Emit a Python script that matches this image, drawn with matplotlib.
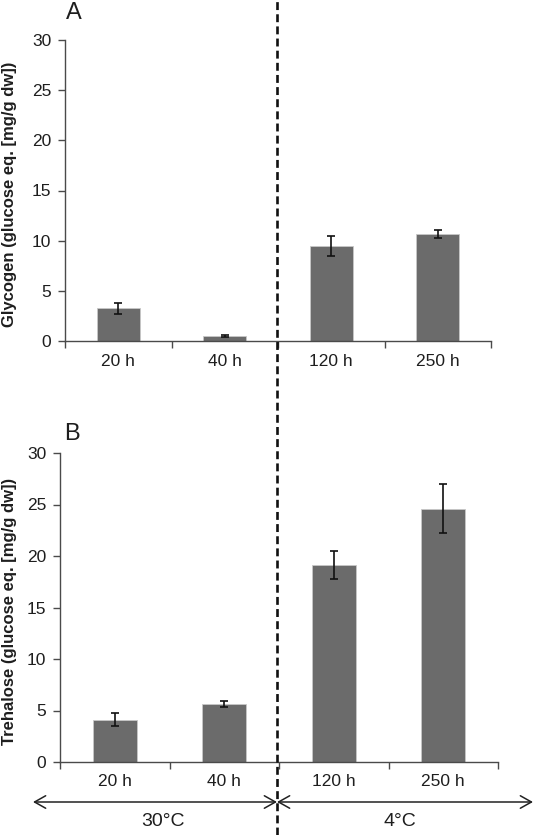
import numpy as np
import matplotlib
matplotlib.use("Agg")
import matplotlib.pyplot as plt
from matplotlib.lines import Line2D
from matplotlib.patches import FancyArrowPatch

plt.rcParams['font.family'] = ['Liberation Sans', 'DejaVu Sans']

categories = ["20 h", "40 h", "120 h", "250 h"]
glycogen = [3.25, 0.53, 9.45, 10.65]
glycogen_err = [0.55, 0.1, 1.0, 0.38]
trehalose = [4.1, 5.62, 19.15, 24.6]
trehalose_err = [0.63, 0.3, 1.37, 2.4]
yticks = [0, 5, 10, 15, 20, 25, 30]
temps = ["30°C", "4°C"]

W, H = 536, 835
fig = plt.figure(figsize=(W / 100, H / 100), dpi=100)

def fx(px):
  return px / W

def fy(py):
  return 1 - py / H

bar_color = '#6b6b6b'
axis_color = '#4a4a4a'
text_color = '#1e1e1e'

def panel(box, vals, errs, ylabel, letter, letter_pos):
  l, t, r, b = box
  ax = fig.add_axes([fx(l), fy(b), (r - l) / W, (b - t) / H])
  x = np.arange(len(categories))
  ax.bar(x, vals, width=0.4, color=bar_color, edgecolor='#c8c8c8', linewidth=0.6, zorder=2)
  ax.errorbar(x, vals, yerr=errs, fmt='none', ecolor='#111111', elinewidth=1.2,
              capsize=2.8, capthick=1.2, zorder=3)
  ax.set_xlim(-0.5, len(categories) - 0.5)
  ax.set_ylim(0, 30)
  ax.set_yticks(yticks)
  ax.set_xticks(np.arange(-0.5, len(categories), 1.0))
  ax.set_xticklabels([])
  ax.set_xticks(x, minor=True)
  ax.set_xticklabels(categories, minor=True)
  ax.tick_params(axis='x', which='minor', length=0, pad=9, labelsize=12.5, labelcolor=text_color)
  ax.tick_params(axis='x', which='major', length=5, width=1, color=axis_color, direction='out')
  ax.tick_params(axis='y', length=5, width=1, color=axis_color, labelsize=12.5,
                 labelcolor=text_color, pad=5)
  for s in ['top', 'right']:
    ax.spines[s].set_visible(False)
  for s in ['left', 'bottom']:
    ax.spines[s].set_color(axis_color)
    ax.spines[s].set_linewidth(1)
  fig.text(fx(10), fy((t + 17 + b - 10) / 2), ylabel, rotation=90, fontsize=12,
           fontweight='bold', ha='center', va='center', color=text_color)
  fig.text(fx(letter_pos[0]), fy(letter_pos[1]), letter, fontsize=17,
           ha='left', va='center', color=text_color)
  return ax

ax1 = panel((65, 40, 491, 341), glycogen, glycogen_err,
            "Glycogen (glucose eq. [mg/g dw])", "A", (66, 13))
ax2 = panel((60, 453, 498, 762), trehalose, trehalose_err,
            "Trehalose (glucose eq. [mg/g dw])", "B", (64, 434))

# dashed separator between temperatures
xsep = fx(277)
fig.add_artist(Line2D([xsep, xsep], [0, 1], transform=fig.transFigure,
                      color='#111111', lw=1.9, dashes=(3.0, 1.6)))

# temperature arrows
yarr = fy(802)
arrow_kw = dict(arrowstyle='<->,head_length=0.8,head_width=0.45', color='#222222', lw=1.1,
                shrinkA=0, shrinkB=0, mutation_scale=10, transform=fig.transFigure)
fig.add_artist(FancyArrowPatch((fx(33), yarr), (xsep, yarr), **arrow_kw))
fig.add_artist(FancyArrowPatch((xsep, yarr), (fx(533), yarr), **arrow_kw))
fig.text(fx(163), fy(822), temps[0], fontsize=14, ha='center', va='center', color=text_color)
fig.text(fx(400), fy(822), temps[1], fontsize=14, ha='center', va='center', color=text_color)

fig.savefig("out.png", dpi=100, facecolor='white')
